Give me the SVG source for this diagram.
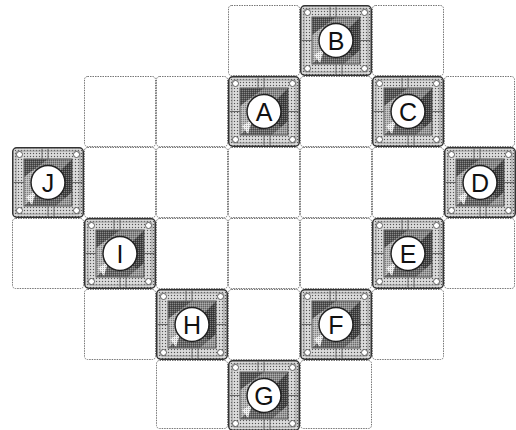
<svg xmlns="http://www.w3.org/2000/svg" xmlns:xlink="http://www.w3.org/1999/xlink" width="516" height="430" viewBox="0 0 516 430">
<style>
.cell{fill:#fff;stroke:#777;stroke-width:1;stroke-dasharray:1.5 1}
.lbl{font-family:"Liberation Sans",Arial,sans-serif;font-size:25px;fill:#111;text-anchor:middle;dominant-baseline:central}
.disc{fill:#fff;stroke:#222;stroke-width:1.5}
</style>
<defs>
<pattern id="stip" width="3" height="3" patternUnits="userSpaceOnUse">
<rect width="3" height="3" fill="#cfcfcf"/>
<rect x="0" y="0" width="1" height="1" fill="#555"/>
<rect x="1.5" y="1.5" width="1" height="1" fill="#fff"/>
</pattern>
<pattern id="stip2" width="2" height="2" patternUnits="userSpaceOnUse">
<rect width="2" height="2" fill="none"/>
<rect x="0" y="0" width="1" height="1" fill="#fff" fill-opacity="0.3"/>
<rect x="1" y="1" width="1" height="1" fill="#000" fill-opacity="0.3"/>
</pattern>
<g id="tile">
<rect x="0.75" y="0.75" width="70.5" height="69.5" rx="4" fill="url(#stip)" stroke="#333" stroke-width="1.5"/>
<rect x="4" y="4" width="64" height="63" rx="2" fill="none" stroke="#888" stroke-width="0.8"/>
<polygon points="12,12 60,12 36,35.5" fill="#8a8a8a"/>
<polygon points="60,12 60,59 36,35.5" fill="#444"/>
<polygon points="12,59 60,59 36,35.5" fill="#666"/>
<polygon points="12,12 12,59 36,35.5" fill="#b5b5b5"/>
<polygon points="12,12 36,12 12,30" fill="#555"/>
<polygon points="60,59 44,59 60,45" fill="#999"/>
<polygon points="14,50 24,44 20,58" fill="#eee"/>
<rect x="12" y="12" width="48" height="47" fill="url(#stip2)"/>
<rect x="12" y="12" width="48" height="47" fill="none" stroke="#555" stroke-width="1"/>
<path d="M36 1.5V12M36 59V69.5M1.5 35.5H12M60 35.5H70.5M30 1.5V12M42 59V69.5" stroke="#666" stroke-width="1" fill="none"/>
<circle cx="7.5" cy="7.5" r="3" fill="#fff" stroke="#444" stroke-width="0.8"/>
<circle cx="64.5" cy="7.5" r="3" fill="#fff" stroke="#444" stroke-width="0.8"/>
<circle cx="7.5" cy="63.5" r="3" fill="#fff" stroke="#444" stroke-width="0.8"/>
<circle cx="64.5" cy="63.5" r="3" fill="#fff" stroke="#444" stroke-width="0.8"/>
<circle cx="36" cy="35.5" r="17" class="disc"/>
</g>
</defs>
<g id="grid">
<rect class="cell" x="228.5" y="5.5" width="71" height="70" rx="3"/>
<rect class="cell" x="372.5" y="5.5" width="71" height="70" rx="3"/>
<rect class="cell" x="84.5" y="76.5" width="71" height="70" rx="3"/>
<rect class="cell" x="156.5" y="76.5" width="71" height="70" rx="3"/>
<rect class="cell" x="300.5" y="76.5" width="71" height="70" rx="3"/>
<rect class="cell" x="444.5" y="76.5" width="70" height="70" rx="3"/>
<rect class="cell" x="84.5" y="147.5" width="71" height="70" rx="3"/>
<rect class="cell" x="156.5" y="147.5" width="71" height="70" rx="3"/>
<rect class="cell" x="228.5" y="147.5" width="71" height="70" rx="3"/>
<rect class="cell" x="300.5" y="147.5" width="71" height="70" rx="3"/>
<rect class="cell" x="372.5" y="147.5" width="71" height="70" rx="3"/>
<rect class="cell" x="12.5" y="218.5" width="71" height="70" rx="3"/>
<rect class="cell" x="156.5" y="218.5" width="71" height="70" rx="3"/>
<rect class="cell" x="228.5" y="218.5" width="71" height="70" rx="3"/>
<rect class="cell" x="300.5" y="218.5" width="71" height="70" rx="3"/>
<rect class="cell" x="444.5" y="218.5" width="70" height="70" rx="3"/>
<rect class="cell" x="84.5" y="289.5" width="71" height="70" rx="3"/>
<rect class="cell" x="228.5" y="289.5" width="71" height="70" rx="3"/>
<rect class="cell" x="372.5" y="289.5" width="71" height="70" rx="3"/>
<rect class="cell" x="156.5" y="360.5" width="71" height="68" rx="3"/>
<rect class="cell" x="300.5" y="360.5" width="71" height="68" rx="3"/>
</g>
<g id="connectors"></g>
<g id="node-B"><use xlink:href="#tile" x="300" y="5"/><text class="lbl" x="336" y="41">B</text></g>
<g id="node-A"><use xlink:href="#tile" x="228" y="76"/><text class="lbl" x="264" y="112">A</text></g>
<g id="node-C"><use xlink:href="#tile" x="372" y="76"/><text class="lbl" x="408" y="112">C</text></g>
<g id="node-J"><use xlink:href="#tile" x="12" y="147"/><text class="lbl" x="48" y="183">J</text></g>
<g id="node-D"><use xlink:href="#tile" x="444" y="147"/><text class="lbl" x="480" y="183">D</text></g>
<g id="node-I"><use xlink:href="#tile" x="84" y="218"/><text class="lbl" x="120" y="254">I</text></g>
<g id="node-E"><use xlink:href="#tile" x="372" y="218"/><text class="lbl" x="408" y="254">E</text></g>
<g id="node-H"><use xlink:href="#tile" x="156" y="289"/><text class="lbl" x="192" y="325">H</text></g>
<g id="node-F"><use xlink:href="#tile" x="300" y="289"/><text class="lbl" x="336" y="325">F</text></g>
<g id="node-G"><use xlink:href="#tile" x="228" y="360"/><text class="lbl" x="264" y="396">G</text></g>
</svg>
